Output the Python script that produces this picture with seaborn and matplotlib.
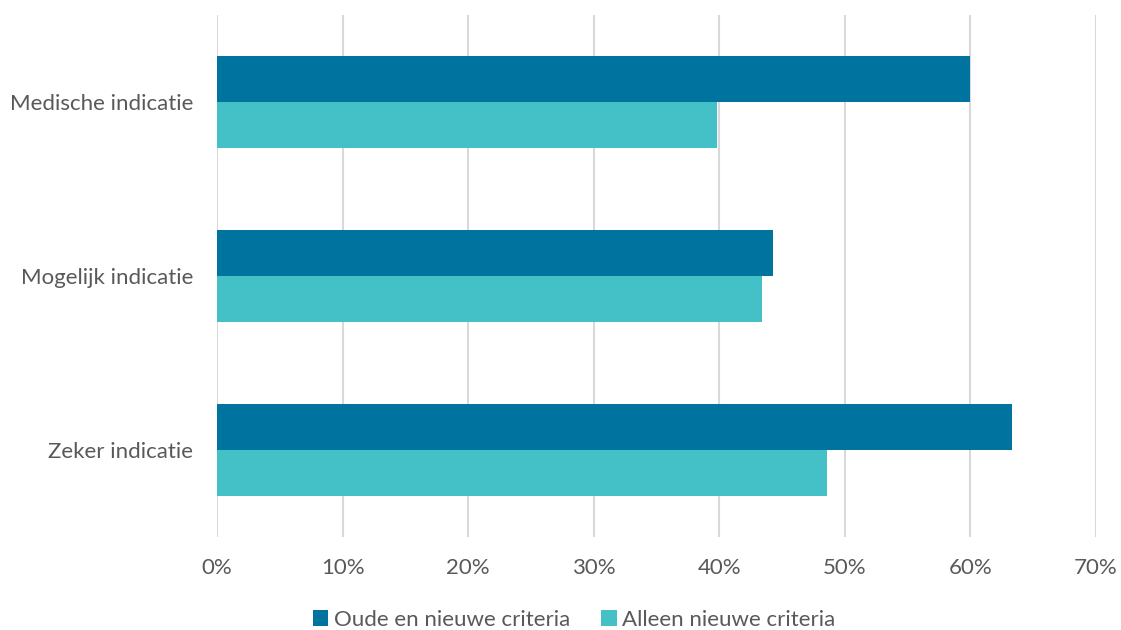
import pandas as pd
import matplotlib.pyplot as plt
import seaborn as sns
from matplotlib.ticker import PercentFormatter

# Data
categories = ['Medische indicatie', 'Mogelijk indicatie', 'Zeker indicatie']
series = ['Oude en nieuwe criteria', 'Alleen nieuwe criteria']
oude_nieuw = [60.0, 44.3, 63.3]
alleen_nieuw = [39.8, 43.4, 48.6]

df = pd.DataFrame({
    'categorie': categories * 2,
    'reeks': [series[0]] * 3 + [series[1]] * 3,
    'waarde': oude_nieuw + alleen_nieuw,
})

sns.set_style('white')
plt.rcParams['font.family'] = ['Lato', 'DejaVu Sans']
grey = '#595959'

fig = plt.figure(figsize=(11.21, 6.30), dpi=100)
ax = fig.add_axes([0.1936, 0.1476, 0.7841, 0.8286])

sns.barplot(data=df, x='waarde', y='categorie', hue='reeks', orient='h',
            palette=['#00739E', '#43C1C6'], width=0.525, saturation=1,
            linewidth=0, order=categories, hue_order=series, ax=ax, zorder=3)

ax.set_xlim(0, 70)
ax.set_xticks(range(0, 71, 10))
ax.xaxis.set_major_formatter(PercentFormatter(decimals=0))
ax.grid(axis='x', color='#D9D9D9', linewidth=1.5, zorder=0)
ax.set_axisbelow(True)
for s in ax.spines.values():
    s.set_visible(False)
ax.set_xlabel('')
ax.set_ylabel('')
ax.tick_params(axis='both', length=0, labelsize=16, labelcolor=grey)
ax.tick_params(axis='x', pad=15)
ax.tick_params(axis='y', pad=17)

ax.legend_.remove()
handles, labels = ax.get_legend_handles_labels()
fig.legend(handles, labels, loc='center', bbox_to_anchor=(0.512, 0.016),
           ncol=2, frameon=False, fontsize=16, labelcolor=grey,
           handlelength=0.7, handleheight=0.7, handletextpad=0.25,
           columnspacing=1.4)

fig.savefig('out.png', dpi=100)
